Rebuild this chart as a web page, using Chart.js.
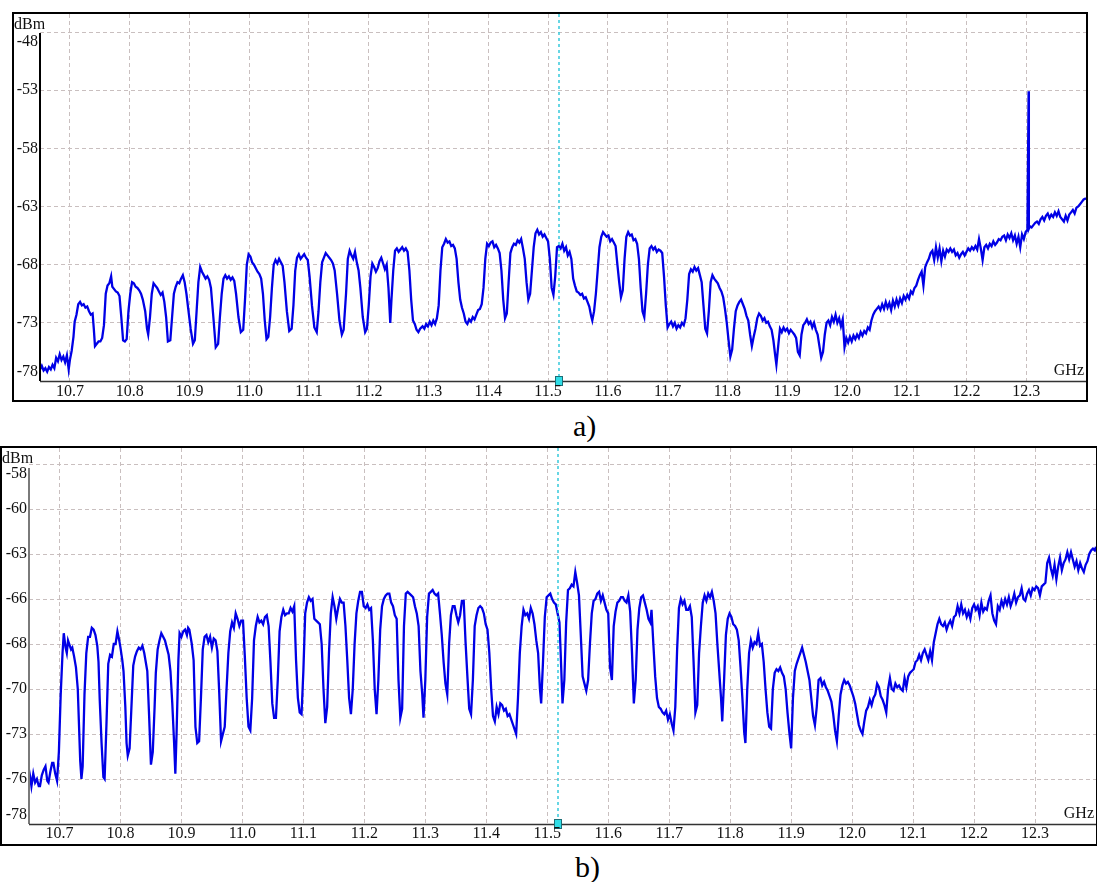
<!DOCTYPE html>
<html>
<head>
<meta charset="utf-8">
<script src="https://cdn.jsdelivr.net/npm/chart.js@4.4.0/dist/chart.umd.min.js"></script>
<style>
  html, body { margin: 0; padding: 0; background: #fff; }
  body { width: 1097px; height: 882px; position: relative; overflow: hidden; font-family: "Liberation Serif", "Times New Roman", serif; }
  .panel { position: absolute; box-sizing: border-box; border: 2px solid #000; background: #fff; }
  #panelA { left: 12px; top: 12px; width: 1076px; height: 390px; }
  #panelB { left: 0; top: 446px; width: 1097px; height: 400px; border-right-width: 1px; }
  .panel canvas { position: absolute; left: 0; top: 0; }
  .caption { position: absolute; font-size: 30px; line-height: 30px; color: #000; }
</style>
</head>
<body>
<div class="panel" id="panelA"><canvas id="spectrumA" width="1072" height="386"></canvas></div>
<div class="caption" style="left:573px; top:411px">a)</div>
<div class="panel" id="panelB"><canvas id="spectrumB" width="1094" height="396"></canvas></div>
<div class="caption" style="left:575px; top:852px">b)</div>

<script>
// frequency grid, GHz
const freqTicks = [10.7, 10.8, 10.9, 11.0, 11.1, 11.2, 11.3, 11.4, 11.5, 11.6, 11.7, 11.8, 11.9, 12.0, 12.1, 12.2, 12.3];
const markerFreq = 11.518;

// level grid, dBm
const levelTicksA = [-48, -53, -58, -63, -68, -73, -78];
const levelLabelsA = ['-48', '-53', '-58', '-63', '-68', '-73', '-78'];
const levelTicksB = [-58, -60.5, -63, -65.5, -68, -70.5, -73, -75.5, -78];
const levelLabelsB = ['-58', '-60', '-63', '-66', '-68', '-70', '-73', '-76', '-78'];

// sweep a) [GHz, dBm]
const sweepA = [
  [10.650,-77.0],[10.653,-76.7],[10.656,-77.1],[10.659,-76.9],[10.662,-77.2],[10.665,-76.8],[10.668,-77.0],[10.671,-76.6],[10.674,-76.9],[10.677,-76.0],
  [10.680,-76.3],[10.683,-75.7],[10.686,-76.2],[10.689,-75.9],[10.692,-76.4],[10.695,-75.8],[10.698,-77.0],[10.700,-76.2],[10.703,-75.4],[10.706,-74.2],
  [10.708,-72.9],[10.711,-72.3],[10.714,-71.4],[10.717,-71.2],[10.720,-71.5],[10.723,-71.4],[10.726,-71.7],[10.729,-71.6],[10.732,-72.0],[10.735,-72.3],
  [10.738,-72.2],[10.740,-73.5],[10.742,-75.0],[10.745,-74.8],[10.748,-74.6],[10.751,-74.6],[10.754,-74.3],[10.757,-73.2],[10.760,-70.5],[10.763,-69.8],
  [10.766,-69.6],[10.769,-69.0],[10.771,-69.9],[10.774,-70.1],[10.777,-70.3],[10.780,-70.4],[10.783,-70.7],[10.786,-72.5],[10.789,-74.5],[10.792,-74.6],
  [10.795,-74.4],[10.798,-72.0],[10.801,-70.5],[10.804,-69.5],[10.807,-69.6],[10.810,-69.9],[10.813,-70.0],[10.816,-70.2],[10.819,-70.5],[10.822,-71.0],
  [10.826,-72.0],[10.829,-73.5],[10.831,-74.0],[10.834,-72.5],[10.837,-70.5],[10.840,-69.6],[10.843,-69.8],[10.846,-70.0],[10.849,-70.3],[10.852,-70.6],
  [10.855,-70.4],[10.858,-71.2],[10.861,-72.5],[10.864,-74.6],[10.868,-74.5],[10.871,-72.5],[10.874,-70.5],[10.877,-69.9],[10.880,-69.5],[10.883,-69.6],
  [10.886,-69.2],[10.889,-68.9],[10.892,-69.5],[10.895,-70.5],[10.898,-71.8],[10.902,-73.5],[10.906,-74.8],[10.909,-74.5],[10.912,-72.0],[10.915,-69.5],
  [10.918,-68.2],[10.921,-68.6],[10.924,-68.9],[10.927,-69.2],[10.930,-69.0],[10.933,-69.3],[10.936,-70.0],[10.940,-72.5],[10.944,-75.1],[10.948,-74.8],
  [10.951,-72.5],[10.954,-70.5],[10.957,-69.2],[10.960,-68.9],[10.963,-69.2],[10.966,-69.0],[10.969,-69.3],[10.972,-69.1],[10.975,-69.4],[10.978,-70.5],
  [10.982,-72.5],[10.986,-73.8],[10.990,-73.6],[10.993,-71.0],[10.996,-68.0],[10.999,-67.1],[11.002,-67.3],[11.005,-67.8],[11.008,-68.0],[11.011,-68.3],
  [11.014,-68.6],[11.017,-68.8],[11.020,-69.2],[11.023,-70.5],[11.026,-72.8],[11.029,-74.4],[11.032,-74.2],[11.035,-72.5],[11.038,-70.0],[11.041,-68.0],
  [11.044,-67.6],[11.047,-67.9],[11.050,-67.5],[11.053,-67.8],[11.056,-68.1],[11.059,-69.5],[11.063,-72.0],[11.067,-73.7],[11.071,-73.5],[11.074,-71.5],
  [11.077,-68.5],[11.080,-67.4],[11.083,-67.1],[11.086,-67.5],[11.089,-67.3],[11.092,-67.1],[11.095,-67.4],[11.098,-67.6],[11.101,-69.0],[11.105,-71.5],
  [11.109,-73.4],[11.113,-73.8],[11.116,-72.0],[11.119,-69.5],[11.122,-67.8],[11.125,-67.4],[11.128,-67.0],[11.131,-67.2],[11.134,-67.4],[11.137,-67.6],
  [11.140,-67.9],[11.143,-68.5],[11.147,-70.5],[11.151,-72.8],[11.155,-74.0],[11.158,-73.6],[11.162,-70.5],[11.165,-67.5],[11.168,-66.8],[11.171,-67.2],
  [11.174,-67.5],[11.177,-66.9],[11.180,-67.8],[11.183,-68.5],[11.186,-70.0],[11.190,-72.5],[11.194,-73.8],[11.197,-73.5],[11.200,-71.5],[11.203,-69.0],
  [11.206,-67.9],[11.209,-68.2],[11.212,-68.6],[11.215,-68.3],[11.218,-67.7],[11.221,-67.4],[11.224,-67.9],[11.227,-68.4],[11.230,-68.0],[11.233,-70.0],
  [11.236,-73.0],[11.238,-71.0],[11.241,-68.5],[11.244,-66.8],[11.247,-66.6],[11.250,-66.9],[11.253,-66.7],[11.256,-66.5],[11.259,-66.8],[11.262,-66.6],
  [11.265,-66.9],[11.268,-68.5],[11.271,-71.0],[11.274,-72.8],[11.277,-73.1],[11.280,-73.6],[11.283,-73.8],[11.286,-73.5],[11.290,-73.3],[11.293,-73.5],
  [11.296,-73.1],[11.299,-73.3],[11.302,-72.9],[11.305,-73.2],[11.308,-72.8],[11.311,-73.1],[11.314,-72.6],[11.317,-71.5],[11.320,-68.5],[11.323,-66.5],
  [11.326,-66.2],[11.329,-65.8],[11.332,-66.1],[11.335,-66.0],[11.338,-66.4],[11.341,-66.3],[11.344,-66.6],[11.347,-67.5],[11.350,-69.5],[11.353,-71.0],
  [11.356,-71.7],[11.359,-72.2],[11.362,-72.9],[11.365,-73.1],[11.368,-72.7],[11.371,-72.9],[11.374,-72.5],[11.377,-72.7],[11.380,-72.3],[11.383,-71.9],
  [11.386,-71.8],[11.389,-71.4],[11.392,-70.0],[11.395,-67.5],[11.398,-66.2],[11.401,-66.4],[11.404,-66.1],[11.407,-66.0],[11.410,-66.5],[11.413,-66.3],
  [11.416,-66.6],[11.419,-67.0],[11.422,-68.5],[11.425,-71.0],[11.428,-72.6],[11.431,-72.2],[11.434,-69.5],[11.437,-67.0],[11.440,-66.5],[11.443,-66.2],
  [11.446,-66.3],[11.449,-65.9],[11.452,-66.1],[11.455,-65.8],[11.458,-66.6],[11.461,-67.5],[11.464,-69.5],[11.467,-71.0],[11.470,-70.5],[11.473,-68.5],
  [11.476,-66.5],[11.479,-65.3],[11.482,-65.0],[11.485,-65.4],[11.488,-65.2],[11.491,-65.6],[11.494,-65.4],[11.497,-65.7],[11.500,-66.0],[11.503,-67.5],
  [11.506,-70.0],[11.509,-70.6],[11.512,-69.0],[11.515,-66.5],[11.518,-66.4],[11.521,-66.6],[11.524,-66.2],[11.527,-66.8],[11.530,-66.5],[11.533,-67.2],
  [11.536,-66.9],[11.539,-67.5],[11.542,-69.2],[11.545,-69.8],[11.548,-70.3],[11.551,-70.4],[11.554,-70.6],[11.557,-70.5],[11.560,-70.9],[11.563,-70.8],
  [11.566,-71.2],[11.569,-71.6],[11.572,-72.4],[11.574,-72.8],[11.577,-72.0],[11.580,-70.5],[11.583,-68.5],[11.586,-66.5],[11.589,-65.6],[11.592,-65.2],
  [11.595,-65.4],[11.598,-65.6],[11.601,-65.5],[11.604,-66.0],[11.607,-65.8],[11.610,-66.1],[11.613,-66.4],[11.616,-68.0],[11.619,-69.5],[11.622,-70.8],
  [11.625,-70.2],[11.628,-67.5],[11.631,-65.6],[11.634,-65.2],[11.637,-65.5],[11.640,-65.4],[11.643,-65.9],[11.646,-65.8],[11.649,-66.2],[11.652,-67.5],
  [11.655,-70.0],[11.658,-72.0],[11.661,-72.5],[11.664,-70.5],[11.667,-68.0],[11.670,-66.6],[11.673,-66.4],[11.676,-66.7],[11.679,-66.5],[11.682,-66.9],
  [11.685,-66.7],[11.688,-66.8],[11.691,-67.0],[11.694,-69.0],[11.697,-71.5],[11.700,-73.4],[11.703,-73.1],[11.706,-72.9],[11.709,-73.3],[11.712,-73.0],
  [11.715,-73.5],[11.718,-73.2],[11.721,-73.4],[11.724,-73.0],[11.727,-73.2],[11.730,-72.6],[11.733,-71.0],[11.736,-68.8],[11.739,-68.4],[11.742,-68.6],
  [11.745,-68.2],[11.748,-68.5],[11.751,-68.3],[11.754,-68.9],[11.757,-69.5],[11.760,-71.5],[11.763,-73.5],[11.766,-73.9],[11.769,-72.0],[11.772,-69.5],
  [11.775,-68.9],[11.778,-69.2],[11.781,-69.4],[11.784,-69.6],[11.787,-70.0],[11.790,-70.3],[11.793,-70.8],[11.796,-71.8],[11.799,-73.0],[11.802,-74.5],
  [11.805,-75.9],[11.808,-75.3],[11.811,-73.5],[11.814,-72.0],[11.817,-71.5],[11.820,-71.2],[11.823,-71.0],[11.826,-71.4],[11.829,-71.8],[11.832,-72.4],
  [11.835,-72.8],[11.838,-74.0],[11.841,-75.0],[11.844,-74.2],[11.847,-73.5],[11.850,-72.6],[11.853,-72.2],[11.856,-72.4],[11.859,-72.8],[11.862,-72.6],
  [11.865,-73.0],[11.868,-72.9],[11.871,-73.3],[11.874,-73.6],[11.877,-74.5],[11.880,-75.8],[11.882,-76.6],[11.885,-75.0],[11.888,-73.5],[11.891,-73.8],
  [11.894,-73.4],[11.897,-73.7],[11.900,-73.5],[11.903,-73.9],[11.906,-73.6],[11.909,-73.8],[11.912,-74.0],[11.915,-74.3],[11.918,-75.5],[11.921,-75.8],
  [11.924,-74.0],[11.927,-73.2],[11.930,-73.0],[11.933,-72.7],[11.936,-73.1],[11.939,-72.9],[11.942,-73.4],[11.945,-73.0],[11.948,-73.6],[11.951,-74.0],
  [11.954,-75.0],[11.957,-76.0],[11.960,-75.5],[11.963,-74.0],[11.966,-73.0],[11.969,-72.8],[11.972,-73.2],[11.975,-72.5],[11.978,-72.9],[11.981,-72.3],
  [11.984,-73.0],[11.987,-72.6],[11.990,-73.3],[11.993,-72.7],[11.996,-75.1],[11.999,-74.3],[12.002,-74.7],[12.005,-74.2],[12.008,-74.6],[12.011,-74.1],
  [12.014,-74.4],[12.017,-74.0],[12.020,-74.3],[12.023,-73.8],[12.026,-74.1],[12.029,-73.7],[12.032,-73.9],[12.035,-73.4],[12.038,-73.6],[12.041,-72.8],
  [12.044,-72.3],[12.047,-72.0],[12.050,-71.8],[12.053,-71.6],[12.056,-71.9],[12.059,-71.4],[12.062,-71.8],[12.065,-71.2],[12.068,-71.7],[12.071,-71.3],
  [12.074,-71.9],[12.077,-71.1],[12.080,-71.6],[12.083,-71.0],[12.086,-71.5],[12.089,-70.9],[12.092,-71.3],[12.095,-70.7],[12.098,-71.0],[12.101,-70.6],
  [12.104,-70.9],[12.107,-70.3],[12.110,-70.5],[12.113,-70.0],[12.116,-69.8],[12.119,-69.3],[12.122,-68.9],[12.125,-68.6],[12.128,-69.8],[12.131,-68.2],
  [12.134,-67.8],[12.137,-67.5],[12.140,-67.0],[12.143,-66.8],[12.146,-67.6],[12.149,-66.5],[12.152,-67.4],[12.155,-66.6],[12.158,-67.7],[12.161,-66.8],
  [12.164,-67.3],[12.167,-66.7],[12.170,-66.9],[12.173,-66.6],[12.176,-66.9],[12.179,-66.7],[12.182,-67.2],[12.185,-67.0],[12.188,-67.4],[12.191,-67.1],
  [12.194,-66.9],[12.197,-67.2],[12.200,-66.9],[12.203,-66.6],[12.206,-66.8],[12.209,-66.5],[12.212,-66.7],[12.215,-66.4],[12.218,-66.7],[12.221,-65.8],
  [12.224,-66.6],[12.227,-67.6],[12.230,-66.5],[12.233,-66.3],[12.236,-66.6],[12.239,-66.2],[12.242,-66.4],[12.245,-66.0],[12.248,-66.3],[12.251,-66.1],
  [12.254,-65.8],[12.257,-65.9],[12.260,-65.6],[12.263,-65.5],[12.266,-65.9],[12.269,-65.4],[12.272,-65.7],[12.275,-65.3],[12.278,-65.9],[12.281,-65.5],
  [12.284,-66.2],[12.287,-65.6],[12.290,-66.5],[12.293,-65.4],[12.296,-65.8],[12.299,-65.2],[12.302,-65.0],[12.3040,-53.1],[12.3044,-64.9],[12.306,-64.7],
  [12.309,-64.8],[12.312,-64.6],[12.315,-64.4],[12.318,-64.3],[12.321,-64.5],[12.324,-64.1],[12.327,-63.9],[12.330,-64.2],[12.333,-63.8],[12.336,-63.6],
  [12.339,-64.0],[12.342,-63.7],[12.345,-63.9],[12.348,-63.5],[12.351,-63.8],[12.354,-63.4],[12.357,-63.9],[12.360,-64.1],[12.363,-64.3],[12.366,-63.8],
  [12.369,-64.2],[12.372,-63.7],[12.375,-63.5],[12.378,-63.3],[12.381,-63.6],[12.384,-63.1],[12.387,-63.0],[12.390,-62.8],[12.393,-62.6],[12.396,-62.4],
  [12.400,-62.3]
];

// sweep b) [GHz, dBm]
const sweepB = [
  [10.649,-74.8],[10.652,-75.4],[10.654,-75.9],[10.657,-75.2],[10.660,-75.7],[10.663,-75.5],[10.666,-75.9],[10.668,-75.9],[10.671,-75.3],[10.674,-75.0],
  [10.677,-74.8],[10.680,-75.6],[10.682,-75.7],[10.685,-75.1],[10.688,-74.6],[10.690,-74.6],[10.693,-75.2],[10.696,-75.6],[10.699,-74.0],[10.702,-70.8],
  [10.705,-68.5],[10.707,-67.4],[10.710,-68.2],[10.712,-68.5],[10.714,-67.8],[10.716,-68.0],[10.719,-68.3],[10.721,-68.2],[10.724,-68.7],[10.727,-69.3],
  [10.730,-70.5],[10.732,-72.5],[10.734,-74.5],[10.736,-75.5],[10.738,-74.8],[10.741,-70.8],[10.744,-68.5],[10.747,-67.6],[10.750,-67.6],[10.753,-67.1],
  [10.756,-67.2],[10.759,-67.5],[10.762,-68.1],[10.764,-69.0],[10.766,-71.1],[10.769,-73.5],[10.772,-75.4],[10.774,-75.5],[10.777,-72.5],[10.780,-69.1],
  [10.783,-68.6],[10.786,-68.7],[10.789,-68.0],[10.792,-68.0],[10.795,-67.3],[10.798,-67.8],[10.800,-68.2],[10.803,-68.9],[10.805,-69.5],[10.808,-71.5],
  [10.810,-73.5],[10.812,-74.2],[10.815,-73.8],[10.818,-71.5],[10.821,-69.2],[10.824,-68.7],[10.827,-68.4],[10.830,-68.2],[10.833,-68.3],[10.836,-68.1],
  [10.839,-68.5],[10.841,-68.9],[10.844,-69.5],[10.847,-72.0],[10.850,-74.7],[10.853,-74.0],[10.856,-71.5],[10.858,-69.6],[10.861,-68.3],[10.864,-67.8],
  [10.867,-67.4],[10.870,-67.6],[10.873,-67.8],[10.876,-68.2],[10.879,-68.6],[10.882,-69.5],[10.885,-71.3],[10.888,-73.5],[10.890,-75.2],[10.892,-73.0],
  [10.895,-68.9],[10.897,-67.4],[10.900,-67.6],[10.903,-67.3],[10.906,-67.2],[10.909,-67.5],[10.911,-67.1],[10.913,-67.2],[10.915,-67.6],[10.917,-68.0],
  [10.920,-68.9],[10.923,-72.6],[10.926,-73.5],[10.929,-73.4],[10.932,-71.0],[10.935,-68.3],[10.938,-67.6],[10.941,-67.5],[10.944,-67.9],[10.947,-67.6],
  [10.950,-68.2],[10.953,-67.7],[10.956,-67.8],[10.959,-68.4],[10.962,-70.7],[10.965,-73.4],[10.968,-73.0],[10.971,-72.6],[10.974,-70.5],[10.977,-68.5],
  [10.980,-67.3],[10.983,-66.8],[10.986,-67.1],[10.989,-66.3],[10.992,-66.6],[10.995,-67.0],[10.998,-66.7],[11.001,-66.7],[11.004,-68.7],[11.007,-71.0],
  [11.010,-72.6],[11.013,-72.8],[11.016,-71.0],[11.019,-67.8],[11.022,-67.0],[11.025,-66.5],[11.028,-66.8],[11.031,-66.7],[11.034,-66.9],[11.037,-66.5],
  [11.040,-66.4],[11.043,-67.0],[11.046,-69.0],[11.049,-71.3],[11.052,-72.1],[11.055,-72.1],[11.058,-70.0],[11.061,-67.3],[11.064,-66.5],[11.067,-66.1],
  [11.070,-66.4],[11.073,-66.3],[11.076,-66.3],[11.079,-66.0],[11.082,-66.2],[11.085,-65.9],[11.088,-68.9],[11.091,-71.0],[11.094,-71.8],[11.097,-71.9],
  [11.100,-69.5],[11.103,-66.3],[11.106,-65.7],[11.109,-65.4],[11.112,-65.6],[11.115,-65.5],[11.118,-66.6],[11.121,-66.7],[11.124,-66.8],[11.127,-66.9],
  [11.130,-68.0],[11.133,-70.5],[11.136,-72.4],[11.139,-71.5],[11.142,-68.5],[11.145,-66.3],[11.148,-65.4],[11.151,-65.9],[11.154,-66.6],[11.157,-66.0],
  [11.160,-65.5],[11.163,-65.7],[11.166,-65.7],[11.169,-67.0],[11.172,-68.9],[11.175,-71.0],[11.178,-71.9],[11.181,-70.5],[11.184,-68.0],[11.187,-66.3],
  [11.190,-65.6],[11.193,-65.1],[11.196,-65.1],[11.199,-65.9],[11.202,-66.0],[11.205,-65.8],[11.208,-66.1],[11.211,-66.0],[11.214,-67.8],[11.217,-70.5],
  [11.220,-71.9],[11.223,-70.0],[11.226,-67.2],[11.229,-65.9],[11.232,-65.5],[11.235,-65.3],[11.238,-65.2],[11.241,-65.2],[11.244,-65.7],[11.247,-65.9],
  [11.250,-66.4],[11.253,-66.6],[11.256,-70.0],[11.259,-72.1],[11.262,-71.6],[11.265,-67.0],[11.268,-65.2],[11.271,-65.1],[11.274,-65.2],[11.277,-65.3],
  [11.280,-65.4],[11.283,-65.9],[11.286,-66.3],[11.289,-67.0],[11.292,-69.5],[11.295,-70.8],[11.297,-72.1],[11.300,-70.0],[11.303,-66.5],[11.306,-65.2],
  [11.309,-65.1],[11.312,-65.0],[11.315,-65.2],[11.318,-65.3],[11.321,-65.2],[11.324,-66.3],[11.327,-67.5],[11.330,-69.0],[11.333,-70.2],[11.336,-70.8],
  [11.339,-68.0],[11.342,-66.4],[11.345,-65.9],[11.348,-65.9],[11.351,-66.4],[11.354,-66.8],[11.357,-66.4],[11.360,-65.6],[11.363,-65.6],[11.366,-67.9],
  [11.369,-69.8],[11.372,-71.6],[11.375,-71.9],[11.378,-70.0],[11.381,-67.0],[11.384,-66.4],[11.387,-66.0],[11.390,-65.9],[11.393,-66.0],[11.396,-66.3],
  [11.399,-66.9],[11.402,-67.2],[11.405,-68.5],[11.408,-70.5],[11.411,-72.0],[11.414,-72.3],[11.417,-71.5],[11.420,-71.9],[11.423,-71.3],[11.426,-71.4],
  [11.429,-71.7],[11.432,-71.6],[11.435,-72.0],[11.438,-71.9],[11.441,-72.2],[11.444,-72.5],[11.447,-72.8],[11.449,-73.0],[11.452,-71.0],[11.455,-68.5],
  [11.458,-67.0],[11.461,-66.1],[11.464,-66.4],[11.467,-66.3],[11.470,-66.6],[11.473,-66.0],[11.476,-66.3],[11.479,-66.9],[11.482,-67.8],[11.485,-68.5],
  [11.488,-70.5],[11.490,-71.3],[11.493,-69.0],[11.496,-66.5],[11.499,-65.4],[11.502,-65.3],[11.505,-65.2],[11.508,-65.5],[11.511,-65.7],[11.514,-65.8],
  [11.517,-66.3],[11.520,-66.8],[11.522,-68.5],[11.525,-71.3],[11.528,-70.0],[11.531,-66.8],[11.534,-65.0],[11.537,-64.9],[11.540,-64.7],[11.543,-64.8],
  [11.546,-64.0],[11.549,-64.6],[11.552,-65.3],[11.555,-67.5],[11.558,-69.8],[11.561,-70.2],[11.564,-70.6],[11.567,-70.0],[11.570,-68.0],[11.573,-66.3],
  [11.576,-65.6],[11.579,-65.5],[11.582,-65.2],[11.585,-65.1],[11.588,-65.6],[11.591,-65.3],[11.594,-65.7],[11.597,-66.1],[11.600,-66.3],[11.603,-69.3],
  [11.606,-70.0],[11.609,-67.0],[11.612,-66.2],[11.615,-65.7],[11.618,-65.6],[11.621,-65.4],[11.624,-65.4],[11.627,-65.6],[11.630,-65.7],[11.633,-65.3],
  [11.636,-66.2],[11.639,-68.5],[11.642,-71.3],[11.645,-70.0],[11.648,-67.2],[11.651,-66.0],[11.654,-65.4],[11.657,-65.3],[11.660,-65.7],[11.663,-66.1],
  [11.666,-66.6],[11.669,-66.8],[11.671,-66.1],[11.674,-68.0],[11.677,-69.8],[11.680,-71.0],[11.683,-71.5],[11.686,-71.6],[11.689,-71.8],[11.692,-71.9],
  [11.695,-71.7],[11.698,-72.2],[11.701,-71.9],[11.704,-72.4],[11.707,-72.8],[11.710,-71.5],[11.713,-68.3],[11.716,-66.0],[11.719,-65.5],[11.722,-65.8],
  [11.725,-65.6],[11.728,-66.1],[11.731,-66.1],[11.734,-65.9],[11.737,-66.5],[11.740,-69.0],[11.743,-71.8],[11.746,-71.4],[11.749,-68.5],[11.752,-67.0],
  [11.755,-65.7],[11.758,-65.3],[11.761,-65.6],[11.764,-65.2],[11.767,-65.4],[11.770,-65.1],[11.773,-65.6],[11.776,-66.3],[11.779,-68.0],[11.782,-69.5],
  [11.785,-71.0],[11.787,-72.3],[11.790,-70.0],[11.793,-67.5],[11.796,-66.6],[11.799,-66.3],[11.802,-66.5],[11.805,-66.9],[11.808,-67.0],[11.811,-67.2],
  [11.814,-67.8],[11.817,-69.3],[11.820,-71.0],[11.823,-72.9],[11.825,-73.5],[11.828,-70.5],[11.831,-68.5],[11.834,-67.8],[11.837,-68.2],[11.840,-67.9],
  [11.843,-68.0],[11.846,-67.4],[11.849,-68.1],[11.852,-68.0],[11.855,-69.0],[11.858,-70.5],[11.861,-71.8],[11.864,-72.6],[11.867,-72.7],[11.870,-70.5],
  [11.873,-69.6],[11.876,-69.4],[11.879,-69.5],[11.882,-69.3],[11.885,-69.6],[11.888,-69.8],[11.891,-70.5],[11.894,-71.8],[11.897,-72.9],[11.900,-73.8],
  [11.903,-71.0],[11.906,-69.5],[11.909,-69.1],[11.912,-68.8],[11.915,-68.5],[11.918,-68.2],[11.921,-68.6],[11.924,-69.0],[11.927,-69.5],[11.930,-70.0],
  [11.933,-71.0],[11.936,-72.0],[11.939,-72.5],[11.942,-71.5],[11.945,-70.0],[11.948,-69.9],[11.951,-70.3],[11.954,-70.1],[11.957,-70.4],[11.960,-70.6],
  [11.963,-70.9],[11.966,-71.2],[11.969,-71.9],[11.972,-72.8],[11.975,-73.4],[11.978,-72.0],[11.981,-70.8],[11.984,-70.3],[11.987,-70.0],[11.990,-70.2],
  [11.993,-70.1],[11.996,-70.3],[11.999,-70.6],[12.002,-70.9],[12.005,-71.3],[12.008,-71.9],[12.011,-72.5],[12.014,-72.8],[12.017,-73.0],[12.020,-72.3],
  [12.023,-71.7],[12.026,-71.5],[12.029,-71.1],[12.032,-71.4],[12.035,-71.0],[12.038,-70.8],[12.041,-70.2],[12.044,-70.4],[12.047,-70.9],[12.050,-71.1],
  [12.053,-71.4],[12.056,-71.8],[12.059,-70.5],[12.062,-69.9],[12.065,-70.5],[12.068,-70.6],[12.071,-70.2],[12.074,-70.4],[12.077,-70.3],[12.080,-70.5],
  [12.083,-70.6],[12.086,-69.9],[12.089,-70.4],[12.092,-69.8],[12.095,-69.6],[12.098,-69.5],[12.101,-69.4],[12.104,-69.0],[12.107,-68.9],[12.110,-68.6],
  [12.113,-68.9],[12.116,-68.5],[12.119,-68.3],[12.122,-68.6],[12.125,-68.9],[12.128,-68.4],[12.131,-68.9],[12.134,-67.9],[12.137,-67.4],[12.140,-66.9],
  [12.143,-66.6],[12.146,-66.9],[12.149,-67.0],[12.152,-66.8],[12.155,-67.2],[12.158,-66.9],[12.161,-66.7],[12.164,-67.0],[12.167,-66.5],[12.170,-66.4],
  [12.173,-65.9],[12.176,-66.3],[12.179,-65.8],[12.182,-66.3],[12.185,-66.1],[12.188,-66.5],[12.191,-66.2],[12.194,-66.6],[12.197,-66.0],[12.200,-65.8],
  [12.203,-66.1],[12.206,-65.9],[12.209,-66.4],[12.212,-65.7],[12.215,-66.2],[12.218,-66.0],[12.221,-66.1],[12.224,-65.6],[12.227,-65.3],[12.230,-66.3],
  [12.233,-66.7],[12.236,-66.9],[12.239,-65.9],[12.242,-66.1],[12.245,-65.6],[12.248,-65.9],[12.251,-65.5],[12.254,-65.8],[12.257,-65.4],[12.260,-65.9],
  [12.263,-65.6],[12.266,-65.2],[12.269,-65.7],[12.272,-65.4],[12.275,-65.3],[12.278,-64.9],[12.281,-65.5],[12.284,-65.6],[12.287,-65.2],[12.290,-65.0],
  [12.293,-65.3],[12.296,-64.9],[12.299,-65.0],[12.302,-64.8],[12.305,-64.9],[12.308,-65.3],[12.311,-64.8],[12.314,-64.7],[12.317,-64.6],[12.320,-63.5],
  [12.323,-63.2],[12.326,-63.8],[12.329,-64.2],[12.332,-63.6],[12.335,-64.4],[12.338,-63.7],[12.341,-63.2],[12.344,-63.9],[12.347,-63.5],[12.350,-63.3],
  [12.353,-62.9],[12.356,-63.3],[12.359,-62.9],[12.362,-63.3],[12.365,-63.7],[12.368,-63.4],[12.371,-63.9],[12.374,-63.5],[12.377,-63.8],[12.380,-64.0],
  [12.383,-63.6],[12.386,-63.4],[12.389,-63.0],[12.392,-62.8],[12.395,-62.7],[12.398,-62.8],[12.400,-62.6]
];

const TRACE = '#0000e6';
const GRID = '#c9bfbf';
const LABEL_FONT = '16px "Liberation Serif", "Times New Roman", serif';

// axes, marker and labels in the analyzer's own style
const analyzerDecor = {
  id: 'analyzerDecor',
  afterDraw(chart, args, o) {
    const { ctx, chartArea: area, scales: { x, y } } = chart;
    ctx.save();

    // marker line
    const mx = Math.round(x.getPixelForValue(o.marker));
    ctx.strokeStyle = '#36c9dc';
    ctx.lineWidth = 1.5;
    ctx.setLineDash([3, 3]);
    ctx.beginPath();
    ctx.moveTo(mx, area.top);
    ctx.lineTo(mx, area.bottom);
    ctx.stroke();
    ctx.setLineDash([]);

    // left axis
    const axisTop = y.getPixelForValue(o.levelTicks[0]) + o.axisGap;
    ctx.strokeStyle = o.axisColor;
    ctx.lineWidth = 2;
    ctx.beginPath();
    ctx.moveTo(area.left, axisTop);
    ctx.lineTo(area.left, area.bottom);
    ctx.stroke();

    // bottom axis
    ctx.strokeStyle = '#333';
    ctx.lineWidth = 1.5;
    ctx.beginPath();
    ctx.moveTo(area.left, area.bottom + 0.5);
    ctx.lineTo(area.right, area.bottom + 0.5);
    ctx.stroke();

    // marker handle
    ctx.fillStyle = '#2fdde6';
    ctx.strokeStyle = '#1d6f78';
    ctx.lineWidth = 1;
    ctx.fillRect(mx - 3.5, area.bottom - 4.5, 7, 9);
    ctx.strokeRect(mx - 3.5, area.bottom - 4.5, 7, 9);

    ctx.font = LABEL_FONT;
    ctx.fillStyle = '#111';

    // frequency labels
    ctx.textAlign = 'center';
    ctx.textBaseline = 'middle';
    freqTicks.forEach(f => {
      ctx.fillText(f.toFixed(1), x.getPixelForValue(f), area.bottom + o.freqLabelGap);
    });

    // level labels, kept inside the plot height
    ctx.textAlign = 'right';
    o.levelTicks.forEach((v, i) => {
      let py = y.getPixelForValue(v);
      py = Math.max(area.top + o.labelTopMin, Math.min(area.bottom - 9, py));
      ctx.fillText(o.levelLabels[i], area.left - 2, py);
    });

    // units
    ctx.textAlign = 'left';
    ctx.fillText('dBm', 0, area.top + 11);
    ctx.textAlign = 'right';
    ctx.fillText('GHz', area.right - 2, area.bottom - 10);

    ctx.restore();
  }
};

function drawSweep(canvasId, sweep, cfg) {
  return new Chart(document.getElementById(canvasId), {
    type: 'line',
    data: {
      datasets: [{
        data: sweep.map(p => ({ x: p[0], y: p[1] })),
        borderColor: TRACE,
        borderWidth: 2.3,
        pointRadius: 0,
        tension: 0,
        fill: false
      }]
    },
    options: {
      responsive: false,
      animation: false,
      events: [],
      layout: { autoPadding: false, padding: cfg.padding },
      plugins: {
        legend: { display: false },
        tooltip: { enabled: false },
        analyzerDecor: cfg.decor
      },
      scales: {
        x: {
          type: 'linear',
          min: 10.65,
          max: 12.4,
          afterBuildTicks: s => { s.ticks = freqTicks.map(v => ({ value: v })); },
          ticks: { display: false },
          grid: { color: GRID, lineWidth: 1, drawTicks: false },
          border: { display: false, dash: [4, 3] }
        },
        y: {
          type: 'linear',
          min: -78,
          max: cfg.top,
          afterBuildTicks: s => { s.ticks = cfg.decor.levelTicks.map(v => ({ value: v })); },
          ticks: { display: false },
          grid: { color: GRID, lineWidth: 1, drawTicks: false },
          border: { display: false, dash: [4, 3] }
        }
      }
    },
    plugins: [analyzerDecor]
  });
}

drawSweep('spectrumA', sweepA, {
  top: -46.45,
  padding: { left: 26, top: 0, right: 0, bottom: 19 },
  decor: {
    marker: markerFreq,
    levelTicks: levelTicksA,
    levelLabels: levelLabelsA,
    axisColor: '#000',
    axisGap: 1,
    labelTopMin: 28,
    freqLabelGap: 11
  }
});

drawSweep('spectrumB', sweepB, {
  top: -57.11,
  padding: { left: 27, top: 0, right: 0, bottom: 20 },
  decor: {
    marker: markerFreq,
    levelTicks: levelTicksB,
    levelLabels: levelLabelsB,
    axisColor: '#7a7a7a',
    axisGap: 4,
    labelTopMin: 26,
    freqLabelGap: 10
  }
});
</script>
</body>
</html>
